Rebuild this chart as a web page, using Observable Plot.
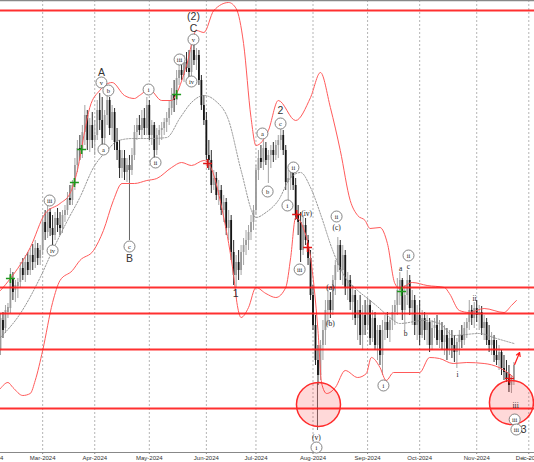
<!DOCTYPE html>
<html><head><meta charset="utf-8">
<script src="https://cdn.jsdelivr.net/npm/d3@7"></script>
<script src="https://cdn.jsdelivr.net/npm/@observablehq/plot@0.6"></script>
<style>body{margin:0;background:#fff;} #chart svg{display:block;}</style>
</head><body><div id="chart"></div>
<script>
// Daily bars (index = trading day, 0 = 7 Feb 2024)
const open = [
65.0,68.0,67.2,68.8,69.2,72.2,71.0,71.4,71.8,73.2,
72.5,73.8,73.0,74.5,73.8,75.2,74.2,75.0,77.8,76.8,
78.8,77.2,76.5,78.2,77.5,77.2,78.5,79.0,80.2,80.0,
81.5,83.5,85.2,85.0,86.8,88.5,86.0,87.5,86.0,86.5,
89.0,88.0,86.2,88.5,90.0,87.2,88.8,85.8,85.0,83.2,
84.2,82.8,83.5,83.0,84.5,86.8,87.5,87.0,88.2,87.2,
89.5,86.5,87.5,85.0,86.5,87.0,87.2,87.8,88.2,89.2,
90.5,90.0,92.2,93.0,92.5,93.8,93.2,92.8,95.0,94.0,
94.5,92.0,89.5,88.0,84.5,84.0,81.5,82.2,80.5,81.0,
79.0,79.8,77.2,78.0,74.8,72.5,73.8,73.0,74.8,75.5,
76.0,76.8,77.8,79.0,83.0,84.2,83.8,85.2,84.0,84.5,
85.0,84.5,85.5,86.0,86.5,85.0,81.8,82.2,82.8,81.5,
78.5,77.8,75.0,77.5,76.0,74.2,70.5,67.5,64.0,62.5,
65.5,67.0,69.0,70.0,69.0,72.0,73.5,75.5,73.0,74.5,
71.2,72.0,69.8,70.5,68.2,69.0,66.5,68.5,67.5,69.5,
66.2,68.2,65.5,67.0,64.5,67.0,67.8,67.0,68.0,68.8,
69.5,71.0,72.0,69.0,70.5,72.0,69.2,70.0,67.5,68.5,
66.5,68.2,67.0,67.8,65.5,67.2,67.5,66.0,67.0,65.8,
66.5,65.0,66.2,65.5,64.8,65.8,66.5,66.0,67.2,67.8,
69.0,68.2,69.2,68.5,68.8,67.2,67.8,66.0,65.5,66.0,
64.5,64.0,64.8,63.2,62.8,62.2,61.5,62.0];
const high = [
68.7,68.8,69.5,69.7,73.2,72.8,72.0,72.2,73.8,74.2,
74.5,74.8,75.2,75.6,76.0,75.7,75.5,78.5,79.0,79.5,
79.2,78.5,78.8,79.2,78.8,79.0,79.5,80.8,81.5,82.0,
84.2,86.0,86.5,87.5,89.5,89.0,88.2,88.8,88.0,90.0,
90.7,90.3,89.0,90.5,90.3,89.5,89.2,87.2,86.0,85.0,
85.0,84.2,84.5,85.2,87.5,88.2,88.5,89.0,89.2,90.3,
90.0,88.0,87.8,87.2,87.5,87.8,88.2,88.8,90.0,91.2,
92.0,93.0,93.8,94.0,94.5,94.8,95.0,95.5,95.8,95.2,
95.0,92.5,90.5,88.8,86.0,85.0,83.0,82.8,82.0,81.5,
80.5,80.2,79.0,78.5,76.0,74.5,75.0,75.5,76.2,77.0,
77.5,78.5,79.5,83.5,85.0,85.5,86.0,85.8,85.0,85.5,
85.8,86.0,86.5,87.2,87.0,85.5,83.0,83.5,83.0,82.2,
79.5,78.8,78.5,78.2,76.5,75.0,71.5,68.5,65.5,66.0,
68.0,70.0,71.0,70.8,72.5,74.0,76.3,76.0,75.5,75.0,
72.8,72.5,71.5,71.0,70.0,70.5,69.5,70.0,70.2,70.0,
69.0,68.8,67.5,67.5,68.0,68.5,68.8,68.2,69.5,70.0,
72.2,72.8,72.2,71.5,73.0,72.5,71.0,70.5,69.5,70.0,
69.0,68.8,68.5,68.2,68.0,68.2,68.5,68.0,67.8,67.5,
67.2,67.0,67.0,66.5,66.2,67.0,67.5,67.8,68.2,70.0,
69.5,69.8,70.0,69.5,69.4,68.5,68.2,67.5,66.8,66.5,
66.0,65.5,65.0,64.5,64.0,63.5,62.5,63.8];
const low = [
64.5,66.2,66.7,68.2,68.7,70.0,69.8,70.2,71.2,72.0,
71.8,72.5,72.5,73.0,73.2,73.5,73.5,74.5,76.0,76.2,
76.4,75.5,76.0,76.8,76.5,76.7,77.8,78.5,79.5,79.5,
81.0,82.8,84.0,84.2,85.5,85.0,84.8,85.2,84.5,86.0,
87.0,85.5,85.5,87.5,86.5,86.0,85.0,84.0,82.2,82.2,
82.0,81.8,82.0,82.5,84.0,86.0,86.5,86.2,86.5,86.5,
86.0,85.5,84.2,84.5,85.5,86.0,86.5,86.8,87.5,88.5,
88.8,89.5,91.5,92.0,91.8,92.8,92.2,92.4,93.5,93.0,
91.5,89.0,87.5,84.0,83.0,80.7,81.0,80.0,79.5,78.5,
77.8,76.5,76.0,74.0,71.5,71.2,72.0,72.5,73.5,74.5,
75.0,76.0,77.0,78.5,82.0,83.2,83.0,83.5,81.7,83.2,
83.8,84.0,84.2,85.0,84.5,81.0,80.0,81.0,81.0,78.0,
76.5,73.8,74.5,75.5,73.5,70.0,67.0,63.5,61.5,62.0,
64.0,65.5,67.5,68.2,68.5,70.5,72.8,72.0,71.5,70.5,
70.0,69.0,68.0,67.5,66.0,65.5,65.0,66.5,67.0,65.5,
65.8,65.0,64.0,63.5,62.5,66.0,66.2,65.8,67.0,67.5,
68.5,69.5,68.0,67.0,69.5,68.5,67.5,66.5,66.0,65.5,
66.2,66.0,65.5,64.8,65.0,66.2,65.5,65.2,65.0,64.5,
64.0,64.5,64.2,63.8,63.2,64.5,65.2,65.5,66.2,67.0,
67.5,67.2,67.8,67.0,66.5,66.0,65.5,64.8,64.5,63.8,
63.5,63.0,62.5,62.0,61.8,60.8,60.7,61.5];
const close = [
68.2,67.0,69.0,69.3,72.5,70.8,71.5,71.8,73.2,72.5,
73.8,73.0,74.5,73.8,75.2,74.2,75.0,77.8,76.8,78.8,
77.2,76.5,78.2,77.5,77.2,78.5,79.0,80.2,80.0,81.5,
83.5,85.2,85.0,86.8,88.5,86.0,87.5,86.0,86.5,89.0,
88.0,86.2,88.5,90.0,87.2,88.8,85.8,85.0,83.2,84.2,
82.8,83.5,83.0,84.5,86.8,87.5,87.0,88.2,87.2,89.5,
86.5,87.5,85.0,86.5,87.0,87.2,87.8,88.2,89.2,90.5,
90.0,92.2,93.0,92.5,93.8,93.2,92.8,95.0,94.0,94.5,
92.0,89.5,88.0,84.5,84.0,81.5,82.2,80.5,81.0,79.0,
79.8,77.2,78.0,74.8,72.5,73.8,73.0,74.8,75.5,76.0,
76.8,77.8,79.0,83.0,84.2,83.8,85.2,84.0,84.5,85.0,
84.5,85.5,86.0,86.5,85.0,81.8,82.2,82.8,81.5,78.5,
77.8,75.0,77.5,76.0,74.2,70.5,67.5,64.0,62.5,65.5,
67.0,69.0,70.0,69.0,72.0,73.5,75.5,73.0,74.5,71.2,
72.0,69.8,70.5,68.2,69.0,66.5,68.5,67.5,69.5,66.2,
68.2,65.5,67.0,64.5,67.0,67.8,67.0,68.0,68.8,69.5,
71.0,72.0,69.0,70.5,72.0,69.2,70.0,67.5,68.5,66.5,
68.2,67.0,67.8,65.5,67.2,67.5,66.0,67.0,65.8,66.5,
65.0,66.2,65.5,64.8,65.8,66.5,66.0,67.2,67.8,69.0,
68.2,69.2,68.5,68.8,67.2,67.8,66.0,65.5,66.0,64.5,
64.0,64.8,63.2,62.8,62.2,61.5,62.0,63.5];

// Bollinger bands read at sample bars: [bar index, value]
const upperBand = [[0,71.0],[4,72.2],[12,75.3],[18,78.7],[24,79.7],[28,80.7],[31,83.0],[34,87.0],[36,89.3],[40,91.0],[45,91.8],[50,90.5],[54,90.2],[56,90.5],[60,91.1],[65,90.0],[69,90.0],[71,90.7],[75,93.5],[79,97.0],[82,96.8],[86,99.0],[92,99.8],[95,99.2],[98,95.7],[101,88.3],[103,85.5],[108,87.0],[112,90.0],[119,88.0],[125,90.3],[129,92.8],[133,89.3],[137,85.0],[141,80.0],[144,78.5],[147,78.0],[149,77.2],[153,77.3],[156,75.7],[159,71.7],[161,71.2],[166,71.8],[172,71.5],[179,71.3],[181,70.7],[185,69.0],[189,68.8],[195,69.2],[203,68.8],[206,69.5],[208,70.0]];
const middleBand = [[0,66.3],[8,68.7],[16,72.3],[21,75.0],[27,78.0],[32,80.3],[37.5,83.3],[43,85.0],[47.5,86.0],[53.5,86.2],[60.5,86.2],[67,86.3],[72.5,88.3],[77,89.8],[82,90.5],[86.5,90.0],[92,88.0],[97,83.0],[103,78.3],[107,78.8],[112,80.0],[117,82.3],[121,82.8],[125,81.3],[129.5,78.3],[133.5,75.3],[139,72.3],[144,71.0],[147.5,70.3],[151.5,69.5],[157,68.3],[161,67.7],[170.5,68.0],[177,67.7],[182.5,66.5],[193,66.7],[200,66.2],[207,65.7]];
const lowerBand = [[0,61.2],[3,61.8],[5,61.3],[9,60.5],[12,60.7],[14,62.0],[17,65.0],[21,69.8],[24,72.0],[29,73.0],[32,74.0],[37.5,75.0],[41.5,77.0],[45.5,80.0],[49,81.7],[54,81.7],[59,82.0],[63,82.2],[69,83.3],[73,83.8],[77,83.5],[82,84.0],[85,83.2],[90,78.3],[92,75.7],[94,72.5],[95.5,69.5],[97,68.3],[100,69.3],[103,71.3],[107,70.7],[111,70.3],[115,71.3],[117,74.3],[119,78.3],[122,77.3],[125,74.3],[128,67.0],[129.5,61.7],[131.5,60.7],[135,61.3],[139,63.0],[144,62.3],[147.5,62.7],[149.5,64.3],[153,63.3],[155.5,62.0],[158.5,62.8],[169,62.8],[173,64.3],[177,64.2],[182.5,63.7],[188,63.8],[195,63.7],[201,63.3],[205,62.7],[207,62.3]];

const levels = [99.0, 71.3, 68.7, 65.1, 59.2];
const monthTicks = [-4, 17, 38, 60, 83, 103, 126, 148, 169, 192, 213];
const monthLabels = ["Feb-2024","Mar-2024","Apr-2024","May-2024","Jun-2024","Jul-2024","Aug-2024","Sep-2024","Oct-2024","Nov-2024","Dec-2024"];

const targetZones = [[128.2, 59.6], [206, 59.8]];
const buySignals = [[4,72.2],[29.8,81.8],[32.7,85.1],[71,90.6],[161.7,70.9]];
const sellSignals = [[83.5,83.7],[119.4,78.6],[123.8,75.3],[205.2,62.2]];
const connectors = [[52, 84.0, 76.0], [127.8, 61.7, 57.0]];
const arrowSeg = [[207.3, 63.6, 209.3, 64.8]];

// wave labels
const bigLabels = [["A",40.7,92.8],["B",52,74.2],["(2)",77.8,98.4],["C",77.8,97.2],["1",94.8,70.7],["2",112.9,89.0],["3",210.9,57.1]];
const circledLabels = [["v",40.7,91.8],["b",43.5,91.0],["a",41.5,85.1],["iii",19.8,80.0],["iv",21,75.0],["c",52,75.4],["i",59.7,91.1],["ii",62.5,83.8],["iii",72.2,94.1],["v",77.8,96.1],["iv",77,91.9],["a",105.6,86.7],["b",107.7,80.9],["c",112.9,87.7],["i",115.7,79.5],["ii",118.1,83.3],["iii",120.6,73.1],["ii",135.5,78.4],["i",127.4,55.3],["i",154.4,61.5],["ii",164.5,74.5],["iii",207.3,58.1],["iii",208,57.1]];
const smallLabels = [["(iv)",123.4,78.7],["(a)",133,71.3],["(b)",133,67.7],["(c)",135.5,77.3],["(v)",127.4,56.3],["a",161.3,73.2],["c",164.5,73.4],["b",163.3,66.7],["i",184.3,62.6],["ii",191.1,70.2],["iii",207.7,59.5]];

const bars = open.map((o, i) => ({i, o, h: high[i], l: low[i], c: close[i], up: close[i] >= o}));
const tickMap = new Map(monthTicks.map((t, k) => [t, monthLabels[k]]));
const barColor = d => d.up ? "#9a9a9a" : "#151515";

const chart = Plot.plot({
  width: 534, height: 462,
  marginTop: 0, marginRight: 0, marginBottom: 10, marginLeft: 0,
  x: {type: "linear", domain: [0, 215.3], axis: null},
  y: {domain: [54.8, 100], axis: null},
  style: {background: "#fff", fontFamily: "Liberation Sans, Arial, sans-serif", color: "#333"},
  marks: [
    Plot.ruleX(monthTicks, {stroke: "#b5b5b5", strokeDasharray: "2,2", strokeWidth: 1}),
    Plot.ruleY([100], {stroke: "#888", strokeWidth: 1.5}),
    Plot.ruleY([54.8], {stroke: "#888"}),
    Plot.axisX({ticks: monthTicks, tickFormat: d => tickMap.get(d), tickSize: 2, tickPadding: 1, fontSize: 6, stroke: "#888", color: "#333"}),
    // price bars
    Plot.ruleX(bars, {x: "i", y1: "l", y2: "h", stroke: barColor, strokeWidth: 0.9}),
    Plot.ruleX(bars, {x: "i", y1: "o", y2: "c", stroke: barColor, strokeWidth: 1.8}),
    Plot.ruleX(connectors, {x: d => d[0], y1: d => d[1], y2: d => d[2], stroke: "#555", strokeWidth: 0.9}),
    // bands
    Plot.line(middleBand, {x: d => d[0], y: d => d[1], stroke: "#8a8a8a", strokeWidth: 0.9, strokeDasharray: "1.5,1.5", curve: "monotone-x"}),
    Plot.line(upperBand, {x: d => d[0], y: d => d[1], stroke: "#ff5a5a", strokeWidth: 1, curve: "monotone-x"}),
    Plot.line(lowerBand, {x: d => d[0], y: d => d[1], stroke: "#ff5a5a", strokeWidth: 1, curve: "monotone-x"}),
    // levels
    Plot.ruleY(levels, {stroke: "#ff1a1a", strokeWidth: 2, strokeOpacity: 0.9}),
    // target zones
    Plot.dot(targetZones, {x: d => d[0], y: d => d[1], r: 22, fill: "#ff0000", fillOpacity: 0.15, stroke: "#ff2a2a", strokeWidth: 1.5}),
    // signals
    Plot.dot(buySignals, {x: d => d[0], y: d => d[1], symbol: "plus", r: 3, stroke: "#1d9a1d", strokeWidth: 1.6}),
    Plot.dot(sellSignals, {x: d => d[0], y: d => d[1], symbol: "plus", r: 3, stroke: "#e01515", strokeWidth: 1.6}),
    Plot.arrow(arrowSeg, {x1: d => d[0], y1: d => d[1], x2: d => d[2], y2: d => d[3], stroke: "#ff1a1a", strokeWidth: 1.2, headLength: 5}),
    // wave labels
    Plot.dot(circledLabels, {x: d => d[1], y: d => d[2], r: 5.5, fill: "#fff", stroke: "#666", strokeWidth: 0.8}),
    Plot.text(circledLabels, {x: d => d[1], y: d => d[2], text: d => d[0], fontSize: 6.5, fontFamily: "Liberation Serif, serif", fill: "#222"}),
    Plot.text(smallLabels, {x: d => d[1], y: d => d[2], text: d => d[0], fontSize: 7.5, fontFamily: "Liberation Serif, serif", fill: "#222"}),
    Plot.text(bigLabels, {x: d => d[1], y: d => d[2], text: d => d[0], fontSize: 10.5, fill: "#333"})
  ]
});
document.getElementById("chart").appendChild(chart);
</script>
</body></html>
